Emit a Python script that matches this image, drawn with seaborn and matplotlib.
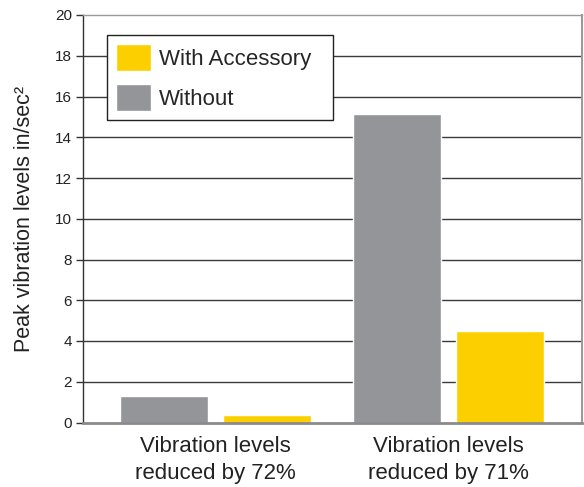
import matplotlib
matplotlib.use("Agg")
import matplotlib.pyplot as plt
from matplotlib import font_manager
import seaborn as sns
import pandas as pd

# ---- data ----
groups = ["Vibration levels\nreduced by 72%", "Vibration levels\nreduced by 71%"]
without_vals = [1.3, 15.15]
with_vals = [0.35, 4.5]
series_names = ["Without", "With Accessory"]
y_ticks = [0, 2, 4, 6, 8, 10, 12, 14, 16, 18, 20]
y_label = "Peak vibration levels in/sec\u00b2"

rows = []
for g, v in zip(groups, without_vals):
    rows.append({"group": g, "series": "Without", "value": v})
for g, v in zip(groups, with_vals):
    rows.append({"group": g, "series": "With Accessory", "value": v})
df = pd.DataFrame(rows)

sns.set_style("white")
names = {f.name for f in font_manager.fontManager.ttflist}
fam = ["Liberation Sans Narrow"] if "Liberation Sans Narrow" in names else []
plt.rcParams["font.family"] = fam + ["Liberation Sans", "DejaVu Sans"]

GRAY = "#939598"
YELLOW = "#FCD000"

fig = plt.figure(figsize=(5.84, 4.87), dpi=100)
ax = fig.add_axes([83 / 584, 1 - 422.5 / 487, (582 - 83) / 584, (422.5 - 15) / 487])

sns.barplot(data=df, x="group", y="value", hue="series", hue_order=series_names,
            palette={"Without": GRAY, "With Accessory": YELLOW},
            width=0.884, gap=0.146, ax=ax, saturation=1, errorbar=None, legend=True)

ax.set_xlim(-0.569, 1.573)
ax.set_ylim(0, 20)
ax.set_yticks(y_ticks)
ax.set_yticklabels([str(t) for t in y_ticks], fontsize=11, color="#222222")
ax.tick_params(axis="y", length=5, width=1, color="#333333", pad=3, direction="out", left=True)
ax.set_xticks([0, 1])
ax.set_xticklabels(groups, linespacing=1.32, fontsize=16, color="#222222")
ax.tick_params(axis="x", length=0, pad=10)

for t in y_ticks[1:-1]:
    ax.axhline(t, color="#3a3a3a", linewidth=1.0, zorder=0.5)

ax.set_xlabel("")
ax.set_ylabel(y_label, fontsize=15.5, color="#222222", labelpad=14)

for side, c, lw in [("left", "#333333", 1.0), ("bottom", "#8a8a8a", 2.0),
                    ("top", "#9a9a9a", 1.0), ("right", "#9a9a9a", 1.5)]:
    ax.spines[side].set_visible(True)
    ax.spines[side].set_color(c)
    ax.spines[side].set_linewidth(lw)

handles, labels = ax.get_legend_handles_labels()
order = [labels.index("With Accessory"), labels.index("Without")]
ax.legend([handles[i] for i in order], [labels[i] for i in order],
          loc="upper left", bbox_to_anchor=(0.048, 0.951 - 0.206, 0.453, 0.206),
          mode="expand", borderaxespad=0, frameon=True, fancybox=False,
          edgecolor="#222222", framealpha=1, fontsize=16,
          handlelength=1.55, handleheight=1.45, handletextpad=0.35,
          labelspacing=0.62, borderpad=0.42)
ax.get_legend().get_frame().set_linewidth(1.0)

fig.savefig("out.png", dpi=100)
